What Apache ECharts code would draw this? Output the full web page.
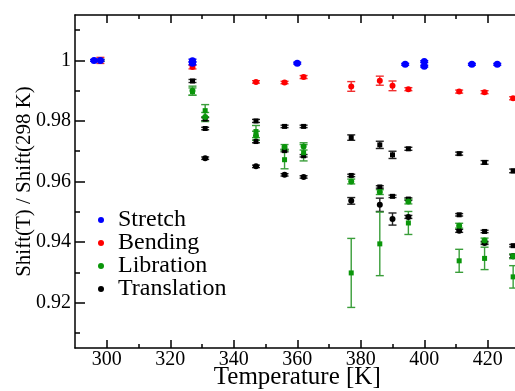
<!DOCTYPE html>
<html><head><meta charset="utf-8">
<script src="https://cdn.jsdelivr.net/npm/echarts@6/dist/echarts.min.js"></script>
<style>html,body{margin:0;padding:0;background:#fff}#c{width:515px;height:391px}</style>
</head><body><div id="c"></div>
<script>
// ---- data ----
const legendNames = ['Stretch', 'Bending', 'Libration', 'Translation'];
const xMajorTicks = [300, 320, 340, 360, 380, 400, 420];
const xMinorTicks = [310, 330, 350, 370, 390, 410, 430];
const yMajorTicks = [0.92, 0.94, 0.96, 0.98, 1.0];
const yMinorTicks = [0.91, 0.93, 0.95, 0.97, 0.99, 1.01];

const stretchT = [296, 298, 327, 327, 360, 394, 400, 400, 415, 423];
const stretchV = [1.0, 1.0, 0.9999, 0.9991, 0.9991, 0.9987, 0.9996, 0.9981, 0.9987, 0.9987];
const stretchE = [0.0003, 0.0003, 0.0005, 0.0005, 0.0003, 0.0003, 0.0003, 0.0003, 0.0003, 0.0003];

const bendT = [298, 327, 347, 356, 362, 377, 386, 390, 395, 411, 419, 428];
const bendV = [1.0, 0.9978, 0.9929, 0.9927, 0.9945, 0.9914, 0.9933, 0.9916, 0.9905, 0.9897, 0.9895, 0.9875];
const bendE = [0.001, 0.0006, 0.0004, 0.0004, 0.0005, 0.0016, 0.0015, 0.0016, 0.0005, 0.0005, 0.0005, 0.0005];

const libCircT = [298, 327, 331, 347, 356, 362, 377, 386, 395, 411, 419, 428];
const libCircV = [1.0, 0.9900, 0.9813, 0.9751, 0.9714, 0.9716, 0.9600, 0.9565, 0.9534, 0.9454, 0.9405, 0.9353];
const libCircE = [0.0003, 0.0015, 0.0015, 0.0015, 0.0008, 0.0012, 0.0008, 0.0008, 0.0008, 0.0008, 0.0008, 0.0008];
const libSqT = [327, 331, 347, 356, 362, 377, 386, 395, 411, 419, 428];
const libSqV = [0.9897, 0.9834, 0.9765, 0.9672, 0.9695, 0.9298, 0.9394, 0.9463, 0.9338, 0.9346, 0.9285];
const libSqE = [0.0012, 0.002, 0.002, 0.003, 0.0027, 0.0114, 0.0105, 0.0038, 0.0038, 0.0037, 0.0037];

const transTopT = [298, 327, 331, 347, 356, 362, 377, 386, 390, 395, 411, 419, 428];
const transTopV = [1.0, 0.9932, 0.9806, 0.9800, 0.9782, 0.9782, 0.9745, 0.9721, 0.9688, 0.9708, 0.9692, 0.9663, 0.9635];
const transTopE = [0.0003, 0.0005, 0.0005, 0.0005, 0.0004, 0.0004, 0.0009, 0.0012, 0.0012, 0.0005, 0.0005, 0.0006, 0.0006];
const transMidT = [331, 347, 356, 362, 377, 386, 390, 395, 411, 419, 428];
const transMidV = [0.9775, 0.9732, 0.9702, 0.9685, 0.9620, 0.9582, 0.9551, 0.9542, 0.9490, 0.9435, 0.9388];
const transMidE = [0.0004, 0.0004, 0.0004, 0.0004, 0.0004, 0.0004, 0.0004, 0.0004, 0.0004, 0.0004, 0.0004];
const transLowT = [331, 347, 356, 362, 377, 386, 390, 395, 411, 419, 428];
const transLowV = [0.9677, 0.9650, 0.9622, 0.9615, 0.9536, 0.9523, 0.9476, 0.9483, 0.9437, 0.9397, 0.9353];
const transLowE = [0.0004, 0.0004, 0.0004, 0.0004, 0.0011, 0.0022, 0.002, 0.0005, 0.0005, 0.0005, 0.0005];

// ---- styles ----
const COL = { Stretch: '#0000ff', Bending: '#ff0000', Libration: '#0a960a', Translation: '#000000' };
const ERRCOL = { Stretch: '#0000ff', Bending: '#f03030', Libration: '#3a9e3a', Translation: '#222222' };
const FONT = 'Liberation Serif';

function pts(T, V, E) { return T.map((t, i) => [t, V[i], E[i]]); }

function errSeries(name, T, V, E) {
  const color = ERRCOL[name];
  return {
    name, type: 'custom', data: pts(T, V, E), encode: { x: 0, y: 1 }, z: 2, silent: true,
    itemStyle: { color: COL[name] },
    renderItem: (params, api) => {
      const x = api.value(0), y = api.value(1), e = api.value(2);
      const top = api.coord([x, y + e]), bot = api.coord([x, y - e]);
      const w = 4;
      const st = { stroke: color, lineWidth: 1.4 };
      return { type: 'group', children: [
        { type: 'line', shape: { x1: top[0], y1: top[1], x2: bot[0], y2: bot[1] }, style: st },
        { type: 'line', shape: { x1: top[0] - w, y1: top[1], x2: top[0] + w, y2: top[1] }, style: st },
        { type: 'line', shape: { x1: bot[0] - w, y1: bot[1], x2: bot[0] + w, y2: bot[1] }, style: st }
      ]};
    }
  };
}
function markSeries(name, T, V, symbol, size) {
  return { name, type: 'scatter', symbol, symbolSize: size, z: 3, silent: true,
    itemStyle: { color: COL[name], opacity: 1 }, data: T.map((t, i) => [t, V[i]]) };
}

const groups = [
  ['Translation', transTopT, transTopV, transTopE, 'rect', 5],
  ['Translation', transMidT, transMidV, transMidE, 'rect', 5],
  ['Translation', transLowT, transLowV, transLowE, 'circle', 6],
  ['Libration', libCircT, libCircV, libCircE, 'circle', 6],
  ['Libration', libSqT, libSqV, libSqE, 'rect', 5],
  ['Bending', bendT, bendV, bendE, 'circle', 6],
  ['Stretch', stretchT, stretchV, stretchE, 'circle', 7]
];
const series = [];
groups.forEach(g => series.push(errSeries(g[0], g[1], g[2], g[3])));
groups.forEach(g => series.push(markSeries(g[0], g[1], g[2], g[4], g[5])));

const tickStyle = { color: '#000', width: 1.5 };
function xAx(pos, ticks, len, showLine, labels) {
  return {
    type: 'value', position: pos, min: 290, max: 430, interval: 10,
    axisLine: { show: showLine, onZero: false, lineStyle: { color: '#000', width: 1.5 } },
    axisTick: { show: true, inside: true, length: len, customValues: ticks, lineStyle: tickStyle },
    axisLabel: labels ? { show: true, customValues: ticks, color: '#000', fontFamily: FONT, fontSize: 20, margin: 2 } : { show: false },
    splitLine: { show: false }
  };
}
function yAx(ticks, len, showLine, labels) {
  return {
    type: 'value', position: 'left', min: 0.905, max: 1.015,
    axisLine: { show: showLine, onZero: false, lineStyle: { color: '#000', width: 1.5 } },
    axisTick: { show: true, inside: true, length: len, customValues: ticks, lineStyle: tickStyle },
    axisLabel: labels ? { show: true, customValues: ticks, color: '#000', fontFamily: FONT, fontSize: 20, margin: 4,
      formatter: v => (Math.abs(v - 1) < 1e-9 ? '1' : v.toFixed(2)) } : { show: false },
    splitLine: { show: false }
  };
}
const xAxes = [
  Object.assign(xAx('bottom', xMajorTicks, 8, true, true), {
    name: 'Temperature [K]', nameLocation: 'middle', nameGap: 17, nameMoveOverlap: false,
    nameTextStyle: { color: '#000', fontFamily: FONT, fontSize: 25 } }),
  xAx('bottom', xMinorTicks, 4, false, false),
  xAx('top', xMajorTicks, 8, true, false),
  xAx('top', xMinorTicks, 4, false, false)
];
const yAxes = [
  Object.assign(yAx(yMajorTicks, 10, true, true), {
    name: 'Shift(T) / Shift(298 K)', nameLocation: 'middle', nameGap: 40, nameMoveOverlap: false,
    nameTextStyle: { color: '#000', fontFamily: FONT, fontSize: 21 } }),
  yAx(yMinorTicks, 5, false, false)
];

const chart = echarts.init(document.getElementById('c'), null, { renderer: 'canvas' });
chart.setOption({
  animation: false,
  backgroundColor: '#fff',
  grid: { left: 75, top: 15, width: 444.5, height: 333, outerBoundsMode: 'none', containLabel: false },
  legend: {
    orient: 'vertical', left: 93, top: 203, itemGap: -1, itemWidth: 24, itemHeight: 6,
    selectedMode: false,
    textStyle: { color: '#000', fontFamily: FONT, fontSize: 24, lineHeight: 23 },
    data: legendNames.map(n => ({ name: n, icon: 'circle', itemStyle: { color: COL[n] } }))
  },
  xAxis: xAxes,
  yAxis: yAxes,
  series: series
});
</script>
</body></html>
